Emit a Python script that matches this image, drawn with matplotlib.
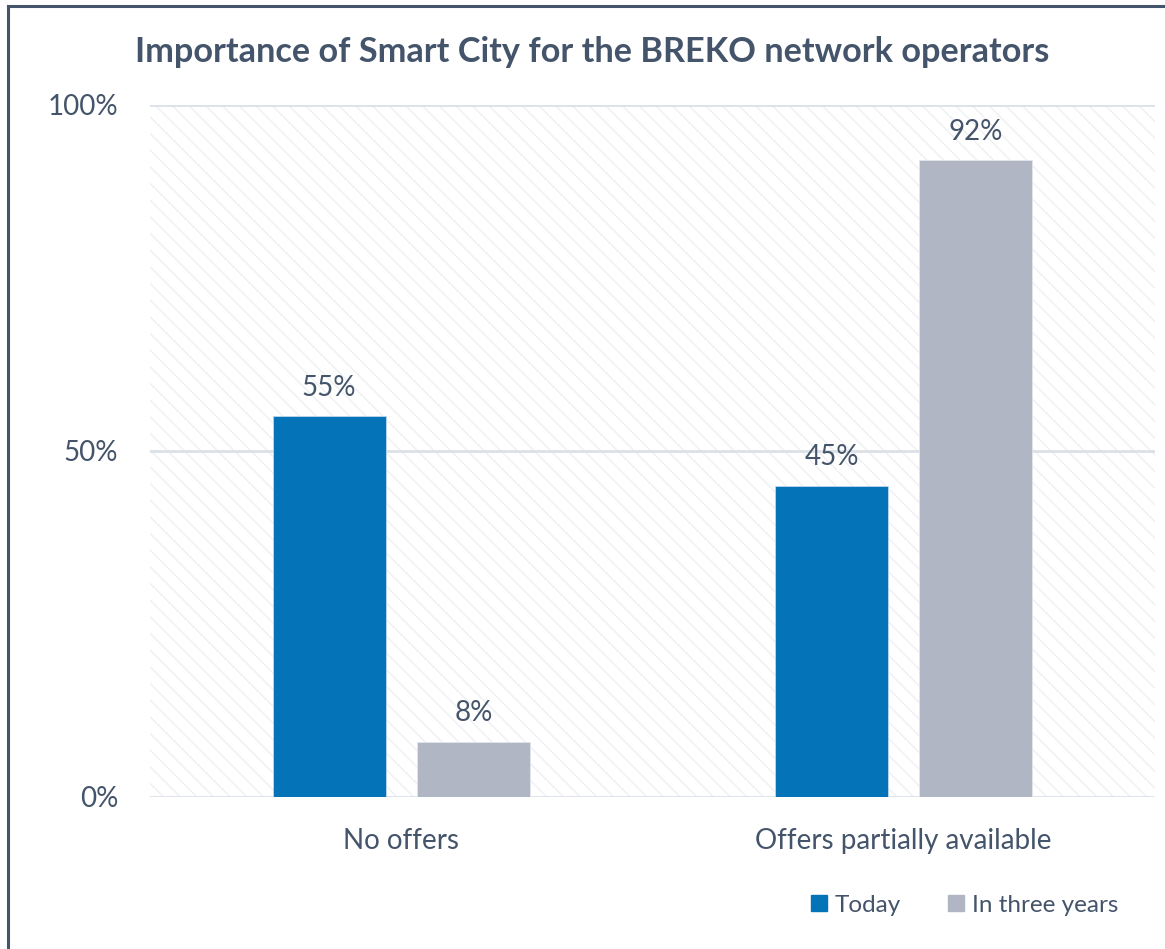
import matplotlib.pyplot as plt
import numpy as np
from matplotlib.lines import Line2D
from matplotlib.patches import Rectangle

plt.rcParams['font.family'] = ['Lato', 'DejaVu Sans']
plt.rcParams['hatch.color'] = '#EEF0F2'
plt.rcParams['hatch.linewidth'] = 1.0

TEXT = '#44546A'
BLUE = '#0573B8'
GREY = '#B0B6C3'

categories = ['No offers', 'Offers partially available']
today = [55, 45]
in_three_years = [8, 92]
series_names = ['Today', 'In three years']

fig = plt.figure(figsize=(11.65, 9.49), dpi=100)
ax = fig.add_axes([0.1288, 0.1602, 0.8626, 0.7292])

# faint diagonal stripes behind the plot
ax.add_patch(Rectangle((0, 0), 1, 1, transform=ax.transAxes, facecolor='white',
                       edgecolor='#EEF0F2', linewidth=0, hatch='\\\\', zorder=0))

x = np.arange(len(categories))
w = 0.225
off = 0.287
b1 = ax.bar(x - off / 2, today, w, color=BLUE, edgecolor='#BFD9EE', linewidth=0.6, zorder=3)
b2 = ax.bar(x + off / 2, in_three_years, w, color=GREY, edgecolor='#E2E5EA', linewidth=0.6, zorder=3)

for bars in (b1, b2):
    ax.bar_label(bars, fmt='%d%%', padding=11, fontsize=20, color=TEXT)

ax.set_xlim(-0.5, 1.5)
ax.set_ylim(0, 100)
ax.set_yticks([0, 50, 100])
ax.set_yticklabels(['0%', '50%', '100%'])
ax.set_xticks(x)
ax.set_xticklabels(categories)
ax.tick_params(axis='both', length=0, labelsize=20, colors=TEXT)
ax.tick_params(axis='x', pad=22)
ax.tick_params(axis='y', pad=23)
for s in ax.spines.values():
    s.set_visible(False)
for v in [0, 50, 100]:
    ax.axhline(v, color='#DCE1E8', linewidth=2, zorder=2)

fig.text(0.508, 0.945, 'Importance of Smart City for the BREKO network operators',
         ha='center', va='center', fontsize=24.7, fontweight='bold', color=TEXT)

handles = [Line2D([], [], marker='s', linestyle='none', markersize=11, color=c)
           for c in (BLUE, GREY)]
fig.legend(handles, series_names, loc='center right', bbox_to_anchor=(0.979, 0.046),
           ncol=2, frameon=False, fontsize=17.5, labelcolor=TEXT,
           handletextpad=0.25, columnspacing=1.9, handlelength=0.8)

# outer frame on the left and top edges
fig.add_artist(Line2D([0.0065, 0.0065], [0, 0.9935], transform=fig.transFigure,
                      color='#44546A', linewidth=2.2))
fig.add_artist(Line2D([0.0065, 1], [0.9935, 0.9935], transform=fig.transFigure,
                      color='#44546A', linewidth=2.2))

fig.savefig('out.png', dpi=100)
